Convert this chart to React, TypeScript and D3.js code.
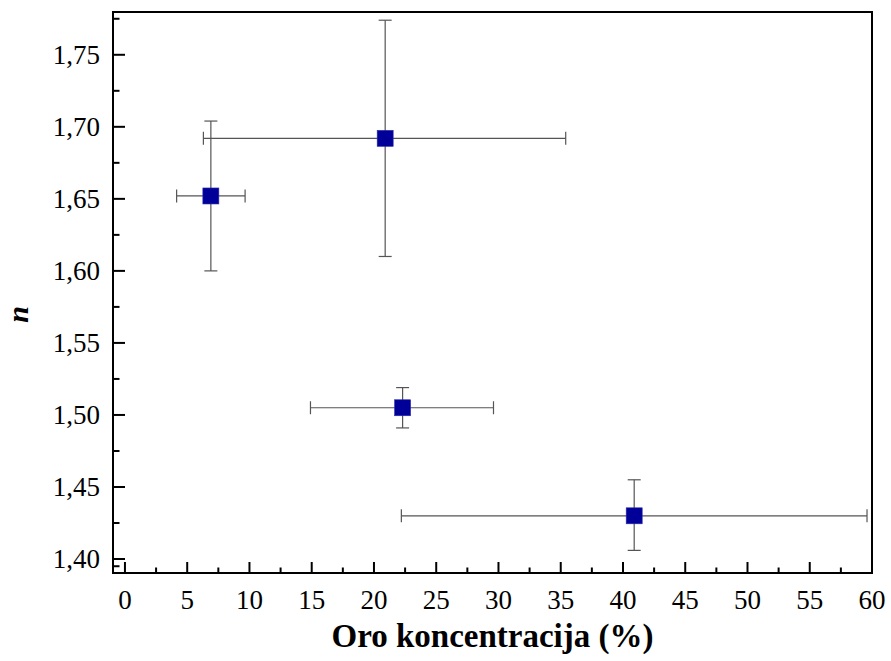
import React from "react";
import * as d3 from "d3";

// Gold concentration (%) and refractive index n, with error ranges
const concentration = [6.9, 20.9, 22.3, 40.9];
const concLow = [4.15, 6.3, 14.9, 22.2];
const concHigh = [9.65, 35.4, 29.6, 59.6];
const refIndex = [1.652, 1.692, 1.505, 1.43];
const nLow = [1.6, 1.61, 1.491, 1.406];
const nHigh = [1.704, 1.774, 1.519, 1.455];

const xTicks = [0, 5, 10, 15, 20, 25, 30, 35, 40, 45, 50, 55, 60];
const xMinor = [2.5, 7.5, 12.5, 17.5, 22.5, 27.5, 32.5, 37.5, 42.5, 47.5, 52.5, 57.5];
const yTicks = [1.4, 1.45, 1.5, 1.55, 1.6, 1.65, 1.7, 1.75];
const yMinor = [1.395, 1.425, 1.475, 1.525, 1.575, 1.625, 1.675, 1.725, 1.775];

const W = 891;
const H = 661;
const left = 113;
const right = 872;
const top = 12;
const bottom = 573;

const FONT = '"Liberation Serif", Tinos, "Times New Roman", "DejaVu Serif", serif';

export default function App() {
  const x = d3.scaleLinear().domain([-0.96, 60]).range([left, right]);
  const y = d3.scaleLinear().domain([1.3903, 1.7797]).range([bottom, top]);
  const fmt = (v: number) => v.toFixed(2).replace(".", ",");
  const cap = 6.5;
  const errColor = "#555";
  const txt = { fontFamily: FONT };

  return (
    <svg
      width={W}
      height={H}
      style={{ position: "absolute", left: 0, top: 0, background: "#fff", fontFamily: FONT }}
    >
      {/* y ticks */}
      {yTicks.map((t) => (
        <g key={"y" + t}>
          <line x1={left} x2={left + 12} y1={y(t)} y2={y(t)} stroke="#000" strokeWidth={2} />
          <text x={100} y={y(t)} dy="0.35em" textAnchor="end" fontSize={27} style={txt}>
            {fmt(t)}
          </text>
        </g>
      ))}
      {yMinor.map((t) => (
        <line key={"ym" + t} x1={left} x2={left + 6.5} y1={y(t)} y2={y(t)} stroke="#000" strokeWidth={2} />
      ))}
      {/* x ticks */}
      {xTicks.map((t) => (
        <g key={"x" + t}>
          <line x1={x(t)} x2={x(t)} y1={bottom} y2={bottom - 11} stroke="#000" strokeWidth={2} />
          <text x={x(t)} y={609} textAnchor="middle" fontSize={27} style={txt}>
            {t}
          </text>
        </g>
      ))}
      {xMinor.map((t) => (
        <line key={"xm" + t} x1={x(t)} x2={x(t)} y1={bottom} y2={bottom - 5.5} stroke="#000" strokeWidth={2} />
      ))}

      {/* error bars */}
      {concentration.map((c, i) => (
        <g key={"e" + i} stroke={errColor} strokeWidth={1.2} fill="none">
          <line x1={x(concLow[i])} x2={x(concHigh[i])} y1={y(refIndex[i])} y2={y(refIndex[i])} />
          <line x1={x(concLow[i])} x2={x(concLow[i])} y1={y(refIndex[i]) - cap} y2={y(refIndex[i]) + cap} />
          <line x1={x(concHigh[i])} x2={x(concHigh[i])} y1={y(refIndex[i]) - cap} y2={y(refIndex[i]) + cap} />
          <line x1={x(c)} x2={x(c)} y1={y(nLow[i])} y2={y(nHigh[i])} />
          <line x1={x(c) - cap} x2={x(c) + cap} y1={y(nLow[i])} y2={y(nLow[i])} />
          <line x1={x(c) - cap} x2={x(c) + cap} y1={y(nHigh[i])} y2={y(nHigh[i])} />
        </g>
      ))}

      {/* markers */}
      {concentration.map((c, i) => (
        <rect
          key={"m" + i}
          x={x(c) - 8}
          y={y(refIndex[i]) - 8}
          width={16}
          height={16}
          fill="#000099"
          stroke="#2a2ab0"
          strokeWidth={0.6}
        />
      ))}

      {/* frame */}
      <rect x={left} y={top} width={right - left} height={bottom - top} fill="none" stroke="#000" strokeWidth={2} />

      {/* axis titles */}
      <text x={(left + right) / 2} y={647} textAnchor="middle" fontSize={33} fontWeight="bold" style={txt}>
        Oro koncentracija (%)
      </text>
      <text
        transform="translate(28,314.5) rotate(-90)"
        textAnchor="middle"
        fontSize={30}
        fontWeight="bold"
        fontStyle="italic"
        style={txt}
      >
        n
      </text>
    </svg>
  );
}
